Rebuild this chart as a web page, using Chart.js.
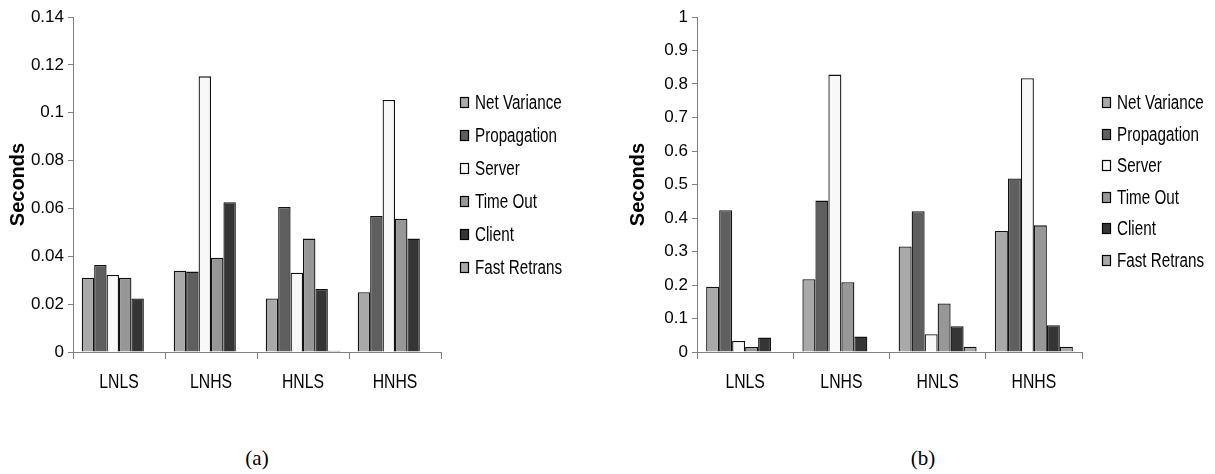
<!DOCTYPE html>
<html>
<head>
<meta charset="utf-8">
<script src="https://cdn.jsdelivr.net/npm/chart.js@4/dist/chart.umd.min.js"></script>
<style>
  html, body { margin: 0; padding: 0; background: #fff; }
  body { width: 1215px; height: 474px; position: relative; overflow: hidden; }
  canvas { position: absolute; top: 0; }
  #cA { left: 0; }
  #cB { left: 620px; }
  .cap { position: absolute; top: 446px; font-family: "Liberation Serif", "DejaVu Serif", serif; font-size: 21px; color: #000; transform: translateX(-50%); }
</style>
</head>
<body>
<canvas id="cA" width="600" height="400"></canvas>
<canvas id="cB" width="595" height="400"></canvas>
<div class="cap" style="left:257px">(a)</div>
<div class="cap" style="left:923px">(b)</div>
<script>
const categories = ['LNLS', 'LNHS', 'HNLS', 'HNHS'];
const seriesNames = ['Net Variance', 'Propagation', 'Server', 'Time Out', 'Client', 'Fast Retrans'];
const seriesColors = ['#a9a9a9', '#5f5f5f', '#f8f8f8', '#979797', '#353535', '#a9a9a9'];

// (a)
const netVarianceA  = [0.031, 0.034, 0.0224, 0.025];
const propagationA  = [0.0364, 0.0336, 0.0606, 0.0568];
const serverA       = [0.0322, 0.1152, 0.0331, 0.1053];
const timeOutA      = [0.031, 0.0394, 0.0474, 0.0557];
const clientA       = [0.0224, 0.0626, 0.0263, 0.0474];
const fastRetransA  = [0, 0, 0.0005, 0];
const yTicksA = ['0', '0.02', '0.04', '0.06', '0.08', '0.1', '0.12', '0.14'];

// (b)
const netVarianceB  = [0.195, 0.217, 0.315, 0.361];
const propagationB  = [0.423, 0.452, 0.42, 0.518];
const serverB       = [0.033, 0.828, 0.053, 0.817];
const timeOutB      = [0.015, 0.208, 0.145, 0.378];
const clientB       = [0.043, 0.046, 0.077, 0.08];
const fastRetransB  = [0, 0, 0.016, 0.016];
const yTicksB = ['0', '0.1', '0.2', '0.3', '0.4', '0.5', '0.6', '0.7', '0.8', '0.9', '1'];

const sans = '"Liberation Sans", Arial, sans-serif';

function drawCondensed(ctx, text, x, y, squeeze, align) {
  ctx.save();
  ctx.translate(x, y);
  ctx.scale(squeeze, 1);
  ctx.textAlign = align;
  ctx.fillText(text, 0, 0);
  ctx.restore();
}

const sideLegend = {
  id: 'sideLegend',
  afterDraw(chart, args, opts) {
    const ctx = chart.ctx;
    const x = chart.chartArea.right + opts.dx;
    ctx.save();
    ctx.font = '20px ' + sans;
    ctx.textBaseline = 'middle';
    chart.data.datasets.forEach((ds, i) => {
      const y = Math.round(opts.y0 + i * opts.spacing);
      ctx.fillStyle = ds.backgroundColor;
      ctx.fillRect(x + 0.5, y - 4.5, 8, 10);
      ctx.strokeStyle = '#000';
      ctx.lineWidth = 1.2;
      ctx.strokeRect(x + 0.5, y - 4.5, 8, 10);
      ctx.fillStyle = '#000';
      drawCondensed(ctx, ds.label, x + 15, y + 1, 0.76, 'left');
    });
    // category labels under the x axis
    const xs = chart.scales.x;
    ctx.font = '21px ' + sans;
    chart.data.labels.forEach((lab, i) => {
      drawCondensed(ctx, lab, xs.getPixelForTick(i), chart.chartArea.bottom + 30, 0.75, 'center');
    });
    ctx.restore();
  }
};

function makeChart(id, seriesList, yMax, yStep, yTicks, padLeftWidth, padRight, legendOpts) {
  return new Chart(document.getElementById(id), {
    type: 'bar',
    data: {
      labels: categories,
      datasets: seriesList.map((vals, i) => ({
        label: seriesNames[i],
        data: vals,
        backgroundColor: seriesColors[i],
        borderColor: '#111',
        borderWidth: 1.3,
        borderSkipped: 'bottom',
        categoryPercentage: 0.81,
        barPercentage: 1
      }))
    },
    options: {
      responsive: false,
      devicePixelRatio: 1,
      animation: false,
      layout: { padding: { top: 17, right: padRight, bottom: 0, left: 0 } },
      plugins: {
        legend: { display: false },
        tooltip: { enabled: false },
        sideLegend: legendOpts
      },
      scales: {
        x: {
          type: 'category',
          offset: true,
          grid: { offset: true, drawOnChartArea: false, drawTicks: true, tickLength: 7, color: '#808080', lineWidth: 1 },
          border: { color: '#808080', width: 1 },
          ticks: { display: false },
          afterFit(scale) { scale.height = 48; }
        },
        y: {
          min: 0,
          max: yMax,
          ticks: {
            stepSize: yStep,
            color: '#000',
            font: { family: sans, size: 17 },
            padding: 4,
            callback: (v, i) => yTicks[i]
          },
          grid: { drawOnChartArea: false, drawTicks: true, tickLength: 5, color: '#808080', lineWidth: 1 },
          border: { color: '#808080', width: 1 },
          title: { display: true, text: 'Seconds', color: '#000', font: { family: sans, size: 20, weight: 'bold' }, padding: { top: 6, bottom: 0 } },
          afterFit(scale) { scale.width = padLeftWidth; }
        }
      }
    },
    plugins: [sideLegend]
  });
}

makeChart('cA', [netVarianceA, propagationA, serverA, timeOutA, clientA, fastRetransA],
  0.14, 0.02, yTicksA, 73, 159, { dx: 19, y0: 102, spacing: 33 });
makeChart('cB', [netVarianceB, propagationB, serverB, timeOutB, clientB, fastRetransB],
  1, 0.1, yTicksB, 77, 133, { dx: 20, y0: 102, spacing: 31.5 });
</script>
</body>
</html>
